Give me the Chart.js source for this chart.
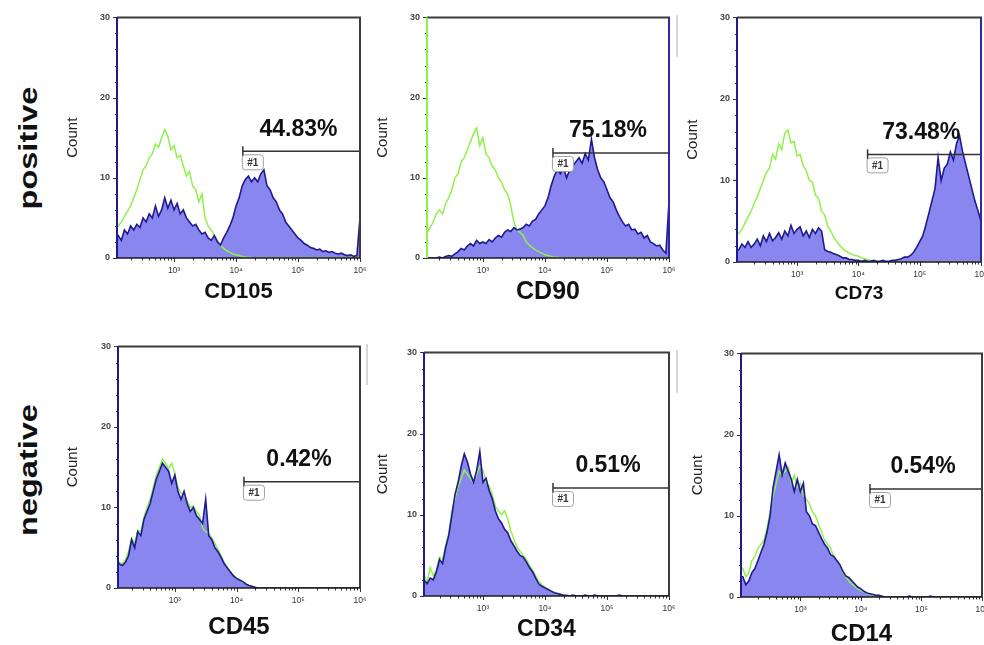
<!DOCTYPE html>
<html><head><meta charset="utf-8">
<script src="https://cdn.jsdelivr.net/npm/chart.js@4.4.1/dist/chart.umd.min.js"></script>
<style>
html,body{margin:0;padding:0;background:#fff;width:984px;height:645px;overflow:hidden;position:relative;font-family:"Liberation Sans",Arial,sans-serif;}
canvas{position:absolute;}
.row{position:absolute;font-weight:bold;font-size:26px;color:#111;transform:translate(-50%,-50%) rotate(-90deg) scaleX(1.25);white-space:nowrap;line-height:1;}
.art{position:absolute;width:2px;background:#d6d6d6;}
</style></head><body>
<div class="row" style="left:28px;top:148px">positive</div>
<div class="row" style="left:28px;top:470px">negative</div>
<script>
// ---------- DATA ----------
const logBins = [2.00,
 2.05,2.10,2.15,2.20,2.25,2.30,2.35,2.40,2.45,2.50,
 2.55,2.60,2.65,2.70,2.75,2.80,2.85,2.90,2.95,3.00,
 3.05,3.10,3.15,3.20,3.25,3.30,3.35,3.40,3.45,3.50,
 3.55,3.60,3.65,3.70,3.75,3.80,3.85,3.90,3.95,4.00,
 4.05,4.10,4.15,4.20,4.25,4.30,4.35,4.40,4.45,4.50,
 4.55,4.60,4.65,4.70,4.75,4.80,4.85,4.90,4.95,5.00,
 5.05,5.10,5.15,5.20,5.25,5.30,5.35,5.40,5.45,5.50,
 5.55,5.60,5.65,5.70,5.75,5.80,5.85,5.90,5.95,6.00];

const cd105Sample = [2.0,
 2.0,2.8,2.2,3.5,3.0,4.0,3.5,4.2,3.8,5.0,
 4.5,5.5,5.0,6.5,5.2,6.0,7.5,6.2,7.2,6.0,
 6.8,5.5,6.0,5.0,4.5,4.0,4.2,3.5,3.0,3.2,
 2.5,2.2,2.8,2.0,1.6,2.5,3.2,4.0,5.0,6.5,
 7.5,9.0,9.8,10.2,9.5,10.0,9.5,10.5,11.0,9.0,
 8.5,7.5,7.0,6.0,5.5,4.5,4.0,3.5,3.0,2.5,
 2.2,1.8,1.6,1.3,1.2,1.0,1.1,0.8,0.9,0.7,
 0.8,0.6,0.5,0.6,0.4,0.3,0.4,0.2,0.3,5.0];
const cd105Control = [3.5,
 3.5,4.0,4.5,5.2,5.8,6.5,7.5,8.5,9.8,11.0,
 11.5,12.5,13.0,14.2,13.8,15.0,16.0,15.2,13.5,14.0,
 12.5,12.8,11.5,10.2,10.8,9.0,8.5,7.0,8.0,5.0,
 4.0,3.5,2.8,2.2,1.6,1.2,0.9,0.7,0.5,0.4,
 0.3,0.2,0.1,0.1,0,0,0,0,0,0,
 0,0,0,0,0,0,0,0,0,0,
 0,0,0,0,0,0,0,0,0,0,
 0,0,0,0,0,0,0,0,0,0];

const cd90Sample = [0,
 0,0,0,0,0,0.1,0,0.2,0.3,0.2,
 0.5,0.8,1.2,1.0,1.5,1.8,1.5,2.2,1.8,2.0,
 1.8,2.3,2.0,2.5,2.8,2.6,3.2,3.5,3.3,3.8,
 3.5,3.6,3.8,4.2,4.0,4.6,4.8,5.5,6.0,6.5,
 7.5,9.0,10.2,11.0,10.5,11.2,10.0,11.0,11.5,12.0,
 12.5,11.8,13.0,12.2,14.8,12.5,11.0,10.0,9.5,8.5,
 7.5,7.0,6.0,5.2,4.5,4.0,4.2,3.5,3.6,3.0,
 3.2,2.5,2.8,2.0,1.8,1.5,1.6,1.0,0.6,7.0];
const cd90Control = [3.0,
 3.0,3.2,3.8,4.5,5.5,6.0,5.5,6.8,7.5,8.5,
 10.0,10.5,12.0,12.5,13.5,14.5,15.5,16.2,14.0,15.0,
 13.0,12.5,11.5,11.0,10.0,9.5,8.5,8.0,6.5,4.5,
 3.5,3.2,2.8,2.0,1.6,1.3,1.0,0.8,0.6,0.4,
 0.3,0.2,0.1,0.1,0,0,0,0,0,0,
 0,0,0,0,0,0,0,0,0,0,
 0,0,0,0,0,0,0,0,0,0,
 0,0,0,0,0,0,0,0,0,0];

const cd73Sample = [1.5,
 1.5,2.2,1.8,2.5,1.8,2.2,2.8,2.0,3.2,2.5,
 3.5,2.6,3.0,3.6,2.8,3.8,3.2,4.5,3.5,4.0,
 4.3,3.2,3.8,3.0,4.0,3.5,4.2,3.8,1.5,1.3,
 1.2,1.0,0.9,0.7,0.5,0.5,0.3,0.3,0.2,0.2,
 0.1,0.2,0.1,0.1,0.2,0.1,0.1,0.2,0.1,0.1,
 0.2,0.2,0.3,0.4,0.6,0.6,0.8,1.2,1.8,2.5,
 3.2,4.5,6.0,7.5,9.0,12.8,10.0,11.5,12.0,13.5,
 12.5,14.5,15.5,13.5,12.0,10.5,9.0,7.5,6.3,5.0];
const cd73Control = [3.5,
 3.5,4.0,4.8,5.5,6.2,7.2,8.0,9.0,10.0,11.0,
 11.5,13.2,12.6,14.5,13.8,15.8,16.2,14.6,14.8,13.0,
 13.2,11.8,11.2,10.0,9.8,8.2,7.8,6.2,5.8,4.4,
 3.8,3.0,2.5,2.0,1.6,1.3,1.1,0.9,0.8,0.7,
 0.5,0.4,0.3,0.2,0.1,0,0,0,0,0,
 0,0,0,0,0,0,0,0,0,0,
 0,0,0,0,0,0,0,0,0,0,
 0,0,0,0,0,0,0,0,0,0];

const cd45Sample = [3.8,
 3.5,3.0,2.8,3.2,4.0,6.0,5.0,7.0,6.5,8.5,
 9.5,10.5,12.0,13.5,14.5,15.5,15.0,14.5,13.0,14.0,
 12.0,11.0,12.0,10.5,9.5,10.0,9.0,8.5,8.0,11.0,
 6.5,6.0,5.0,4.5,3.8,3.0,2.5,2.0,1.5,1.2,
 1.0,0.8,0.5,0.3,0.2,0.1,0,0,0,0,
 0,0,0,0,0,0,0,0,0,0,
 0,0,0,0,0,0,0,0,0,0,
 0,0,0,0,0,0,0,0,0,0];
const cd45Control = [4.2,
 4.0,3.2,3.0,3.5,4.5,6.2,5.5,7.2,7.0,8.8,
 10.0,11.0,12.5,14.0,15.0,16.0,15.5,14.8,15.5,14.2,
 12.5,11.8,11.5,10.8,10.0,10.2,9.5,9.0,7.5,7.0,
 6.8,6.2,5.5,4.8,4.0,3.2,2.6,2.0,1.6,1.2,
 1.0,0.7,0.5,0.3,0.1,0,0,0,0,0,
 0,0,0,0,0,0,0,0,0,0,
 0,0,0,0,0,0,0,0,0,0,
 0,0,0,0,0,0,0,0,0,0];

const cd34Sample = [2.0,
 2.0,1.5,2.2,2.0,3.0,4.5,4.0,6.0,7.5,10.0,
 12.5,14.0,16.0,17.5,16.5,15.0,14.0,15.5,17.8,14.0,
 14.5,13.0,12.0,10.5,9.5,9.0,8.2,7.8,6.8,6.2,
 5.5,5.0,4.8,4.2,3.5,3.0,2.2,1.5,1.2,1.0,
 0.8,0.6,0.4,0.3,0.2,0.1,0.1,0,0.1,0,
 0,0,0.1,0,0,0.1,0,0,0,0,
 0,0,0,0.1,0,0,0,0,0,0,
 0,0,0,0,0,0,0,0,0,0];
const cd34Control = [2.5,
 2.5,1.8,3.5,2.5,3.2,4.8,4.5,6.2,7.8,10.5,
 12.0,13.5,14.5,15.5,15.0,14.5,14.0,15.0,16.0,15.5,
 14.0,13.5,12.5,11.0,10.5,10.0,10.5,9.5,8.0,7.0,
 6.0,5.5,5.0,4.5,3.8,3.2,2.5,1.8,1.4,1.1,
 0.8,0.6,0.4,0.3,0.2,0.1,0,0,0,0,
 0,0,0,0,0,0,0,0,0,0,
 0,0,0,0,0,0,0,0,0,0,
 0,0,0,0,0,0,0,0,0,0];

const cd14Sample = [2.5,
 2.5,1.5,2.0,3.0,3.5,4.5,5.5,6.5,8.0,10.0,
 13.5,15.5,17.5,15.0,16.5,15.5,14.5,13.0,14.5,13.0,
 14.0,10.5,10.0,9.0,8.8,8.0,7.2,6.5,6.0,5.2,
 5.0,4.5,4.0,3.2,2.6,2.4,2.0,1.6,1.2,1.0,
 0.7,0.5,0.4,0.3,0.2,0.2,0.1,0,0,0,
 0,0,0,0,0,0.1,0,0,0,0,
 0,0,0.1,0,0,0,0,0,0,0,
 0,0,0,0,0,0,0,0,0,0];
const cd14Control = [3.5,
 3.5,2.5,3.0,4.5,5.0,6.0,6.5,7.0,8.5,10.5,
 12.5,14.0,15.5,15.0,15.5,16.0,14.0,15.0,13.5,14.0,
 12.5,12.0,11.5,10.5,10.0,9.0,8.0,7.0,6.5,6.0,
 5.0,4.5,4.0,3.0,2.5,2.0,1.6,1.3,1.0,0.8,
 0.6,0.4,0.3,0.2,0.1,0,0,0,0,0,
 0,0,0,0,0,0,0,0,0,0,
 0,0,0,0,0,0,0,0,0,0,
 0,0,0,0,0,0,0,0,0,0];

const markers = ['CD105','CD90','CD73','CD45','CD34','CD14'];
const sampleSeries = [cd105Sample, cd90Sample, cd73Sample, cd45Sample, cd34Sample, cd14Sample];
const controlSeries = [cd105Control, cd90Control, cd73Control, cd45Control, cd34Control, cd14Control];
const percentLabels = ['44.83%','75.18%','73.48%','0.42%','0.51%','0.54%'];
const gateStarts = [4.11, 4.13, 4.15, 4.12, 4.13, 4.15];
const gateCounts = [13.3, 13.1, 13.2, 13.2, 13.3, 13.3];
const gateName = '#1';
const xTickValues = [3, 4, 5, 6];
const xTickLabels = ['10\u00B3', '10\u2074', '10\u2075', '10\u2076'];
const yTickValues = [0, 10, 20, 30];
const yTickLabels = ['0', '10', '20', '30'];
const yTitle = 'Count';

// ---------- LAYOUT / STYLE ----------
const NAVY = '#1f1a8e', FILL = '#8a86f0', GREEN = '#8ef248', GRAY = '#3c3c3c';
const PAD_R = 20;
const panels = [
  {left:64,  top:5,   bottom:305, pL:117, pT:15,  pR:360, pB:258, xmin:2.08, tf:22, lc:NAVY,  rc:GRAY},
  {left:374, top:5,   bottom:307, pL:427, pT:15,  pR:669, pB:258, xmin:2.10, tf:25, lc:GREEN, rc:'#2a2aa8'},
  {left:684, top:5,   bottom:305, pL:737, pT:15,  pR:981, pB:262, xmin:2.02, tf:19, lc:NAVY,  rc:'#2a2aa8'},
  {left:64,  top:334, bottom:642, pL:118, pT:344, pR:360, pB:588, xmin:2.08, tf:24, lc:NAVY,  rc:GRAY},
  {left:374, top:340, bottom:643, pL:424, pT:350, pR:669, pB:596, xmin:2.05, tf:23, lc:NAVY,  rc:GRAY},
  {left:689, top:341, bottom:649, pL:741, pT:351, pR:982, pB:597, xmin:2.02, tf:24, lc:NAVY,  rc:GRAY}
];
const FONT = '"Liberation Sans", Arial, sans-serif';
Chart.defaults.font.family = FONT;

const deco = {
  id: 'deco',
  afterDatasetsDraw(chart, args, opts) {
    const idx = opts.idx;
    const p = panels[idx];
    const {ctx, chartArea: a} = chart;
    const x = chart.scales.x, y = chart.scales.y;
    const line = (x1, y1, x2, y2) => { ctx.beginPath(); ctx.moveTo(x1, y1); ctx.lineTo(x2, y2); ctx.stroke(); };
    ctx.save();
    // y ticks (major + minor)
    ctx.strokeStyle = '#333'; ctx.lineWidth = 1;
    for (let v = 0; v <= 30; v += 2) {
      const py = Math.round(y.getPixelForValue(v)) + 0.5;
      line(a.left - (v % 10 === 0 ? 4 : 2), py, a.left, py);
    }
    // x ticks (log major + minor)
    for (let n = 2; n <= 6; n++) {
      for (let k = 1; k <= 9; k++) {
        const v = n + Math.log10(k);
        if (v < x.min || v > x.max + 1e-9) continue;
        const px = Math.round(x.getPixelForValue(v)) + 0.5;
        line(px, a.bottom, px, a.bottom + (k === 1 ? 4 : 2.5));
      }
    }
    // frame
    ctx.lineWidth = 2;
    ctx.strokeStyle = GRAY; line(a.left, a.top, a.right + 1, a.top);
    ctx.strokeStyle = p.rc; line(a.right, a.top, a.right, a.bottom);
    ctx.strokeStyle = '#1a1a1a'; ctx.lineWidth = 1.5; line(a.left, a.bottom, a.right, a.bottom);
    ctx.strokeStyle = p.lc; ctx.lineWidth = 2; line(a.left, a.top, a.left, a.bottom);
    // gate end tick, label box, percent
    const gx = x.getPixelForValue(gateStarts[idx]);
    const gy = y.getPixelForValue(gateCounts[idx]);
    ctx.strokeStyle = '#333'; ctx.lineWidth = 1.5;
    line(gx, gy - 5, gx, gy + 5);
    ctx.fillStyle = '#fff'; ctx.strokeStyle = '#a0a0a0'; ctx.lineWidth = 1;
    ctx.beginPath(); ctx.roundRect(gx - 0.5, gy + 3.5, 21, 15, 3); ctx.fill(); ctx.stroke();
    ctx.fillStyle = '#333'; ctx.font = 'bold 10px ' + FONT;
    ctx.textAlign = 'center'; ctx.textBaseline = 'middle';
    ctx.fillText(gateName, gx + 10, gy + 11.5);
    ctx.fillStyle = '#111'; ctx.font = 'bold 23px ' + FONT;
    ctx.fillText(percentLabels[idx], (gx + a.right) / 2 - 3, gy - 22);
    ctx.restore();
  }
};

panels.forEach((p, i) => {
  const c = document.createElement('canvas');
  const right = p.pR + PAD_R;
  c.width = right - p.left; c.height = p.bottom - p.top;
  c.style.left = p.left + 'px'; c.style.top = p.top + 'px';
  document.body.appendChild(c);
  const yW = p.pL - p.left, xH = p.bottom - p.pB;
  const toPts = arr => arr.map((v, j) => ({x: logBins[j], y: v}));
  new Chart(c, {
    type: 'line',
    data: {
      datasets: [
        {data: [{x: gateStarts[i], y: gateCounts[i]}, {x: 6, y: gateCounts[i]}], borderColor: '#333', borderWidth: 1.5, pointRadius: 0, fill: false},
        {data: toPts(sampleSeries[i]), borderColor: NAVY, borderWidth: 1.6, pointRadius: 0, fill: false, tension: 0},
        {data: toPts(controlSeries[i]), borderColor: GREEN, borderWidth: 1.5, pointRadius: 0, fill: false, tension: 0},
        {data: toPts(sampleSeries[i]), borderWidth: 0, borderColor: 'rgba(0,0,0,0)', backgroundColor: FILL, pointRadius: 0, fill: 'origin', tension: 0}
      ]
    },
    options: {
      responsive: false, animation: false, devicePixelRatio: 1, events: [],
      layout: {autoPadding: false, padding: {left: 0, top: p.pT - p.top, right: PAD_R, bottom: 0}},
      plugins: {legend: {display: false}, tooltip: {enabled: false}, deco: {idx: i}},
      scales: {
        x: {
          type: 'linear', min: p.xmin, max: 6,
          grid: {display: false, drawTicks: false}, border: {display: false},
          afterBuildTicks: s => { s.ticks = xTickValues.map(v => ({value: v})); },
          afterFit: s => { s.height = xH; },
          ticks: {autoSkip: false, maxRotation: 0, padding: 8, color: '#333', font: {size: 8.5},
                  callback: v => xTickLabels[xTickValues.indexOf(v)]},
          title: {display: true, text: markers[i], color: '#111', padding: 0, font: {size: p.tf, weight: 'bold'}}
        },
        y: {
          type: 'linear', min: 0, max: 30,
          grid: {display: false, drawTicks: false}, border: {display: false},
          afterBuildTicks: s => { s.ticks = yTickValues.map(v => ({value: v})); },
          afterFit: s => { s.width = yW; },
          ticks: {autoSkip: false, padding: 7, color: '#444', font: {size: 9, weight: 'bold'},
                  callback: v => yTickLabels[yTickValues.indexOf(v)]},
          title: {display: true, text: yTitle, color: '#222', padding: 0, font: {size: 15}}
        }
      }
    },
    plugins: [deco]
  });
});
</script>
<div class="art" style="left:676px;top:15px;height:42px"></div>
<div class="art" style="left:366px;top:344px;height:41px"></div>
<div class="art" style="left:676px;top:350px;height:43px"></div>
</body></html>
